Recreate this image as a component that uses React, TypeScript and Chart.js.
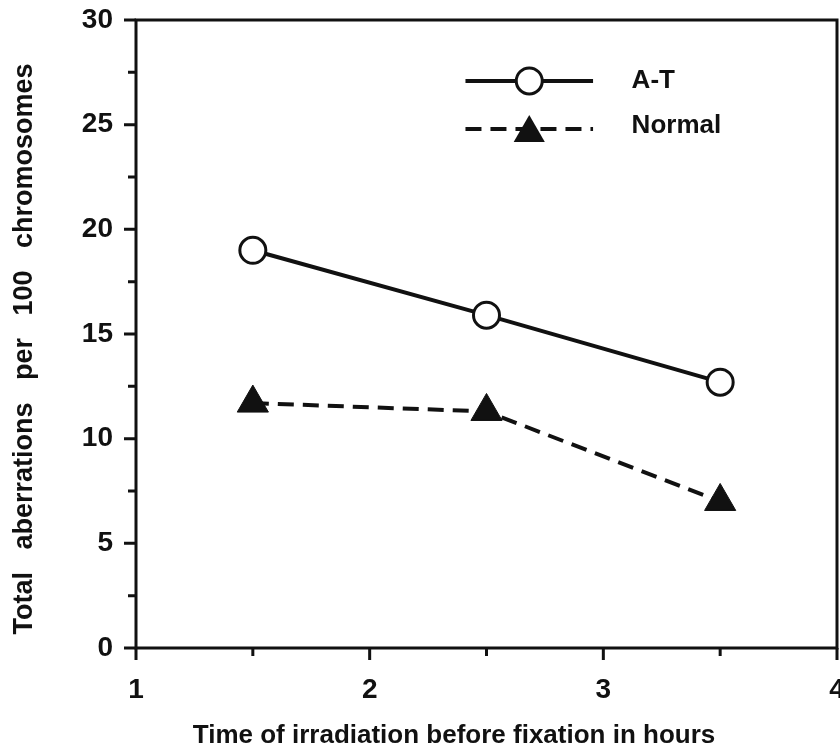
import React, { useEffect, useRef } from "react";
import { Chart, registerables } from "chart.js";

Chart.register(...registerables);

const timeHours = [1.5, 2.5, 3.5];
const atValues = [19.0, 15.9, 12.7];
const normalValues = [11.7, 11.3, 7.0];
const xMajorTicks = [1, 2, 3, 4];
const xMinorTicks = [1.5, 2.5, 3.5];
const yMajorTicks = [0, 5, 10, 15, 20, 25, 30];
const yMinorTicks = [2.5, 7.5, 12.5, 17.5, 22.5, 27.5];
const seriesNames = ["A-T", "Normal"];
const xTitle = "Time of irradiation before fixation in hours";
const yTitle = "Total   aberrations   per   100   chromosomes";

const FONT = "'Liberation Sans', Arial, Helvetica, sans-serif";

const axesPlugin = {
  id: "axesPlugin",
  beforeDatasetsDraw(chart: any) {
    const { ctx, chartArea, scales } = chart;
    const xs = scales.x;
    const ys = scales.y;
    ctx.save();
    ctx.strokeStyle = "#111";
    ctx.lineWidth = 3;
    ctx.lineCap = "square";
    ctx.beginPath();
    ctx.moveTo(chartArea.left, chartArea.top);
    ctx.lineTo(chartArea.left, chartArea.bottom);
    ctx.lineTo(chartArea.right, chartArea.bottom);
    ctx.moveTo(chartArea.left, chartArea.top);
    ctx.lineTo(chartArea.right, chartArea.top);
    ctx.lineTo(chartArea.right, chartArea.bottom);
    ctx.stroke();
    ctx.lineCap = "butt";
    ctx.lineWidth = 3;
    ctx.beginPath();
    for (const v of yMajorTicks) {
      const y = ys.getPixelForValue(v);
      ctx.moveTo(chartArea.left - 12, y);
      ctx.lineTo(chartArea.left, y);
    }
    for (const v of yMinorTicks) {
      const y = ys.getPixelForValue(v);
      ctx.moveTo(chartArea.left - 8, y);
      ctx.lineTo(chartArea.left, y);
    }
    for (const v of xMajorTicks) {
      const x = xs.getPixelForValue(v);
      ctx.moveTo(x, chartArea.bottom);
      ctx.lineTo(x, chartArea.bottom + 12);
    }
    for (const v of xMinorTicks) {
      const x = xs.getPixelForValue(v);
      ctx.moveTo(x, chartArea.bottom);
      ctx.lineTo(x, chartArea.bottom + 8);
    }
    ctx.stroke();
    ctx.restore();
  },
  afterDraw(chart: any) {
    const { ctx, chartArea } = chart;
    const w = chartArea.right - chartArea.left;
    const h = chartArea.bottom - chartArea.top;
    const x0 = chartArea.left + w * 0.47;
    const x1 = chartArea.left + w * 0.652;
    const xm = (x0 + x1) / 2;
    const tx = chartArea.left + w * 0.707;
    const y1 = chartArea.top + h * 0.097;
    const y2 = chartArea.top + h * 0.1736;
    ctx.save();
    // A-T
    ctx.strokeStyle = "#111";
    ctx.lineWidth = 4;
    ctx.beginPath();
    ctx.moveTo(x0, y1);
    ctx.lineTo(x1, y1);
    ctx.stroke();
    ctx.beginPath();
    ctx.arc(xm, y1, 13, 0, Math.PI * 2);
    ctx.fillStyle = "#fff";
    ctx.fill();
    ctx.lineWidth = 3;
    ctx.stroke();
    // Normal
    ctx.lineWidth = 4;
    ctx.setLineDash([16, 9]);
    ctx.beginPath();
    ctx.moveTo(x0, y2);
    ctx.lineTo(x1, y2);
    ctx.stroke();
    ctx.setLineDash([]);
    const r = 18;
    ctx.beginPath();
    ctx.moveTo(xm, y2 - r + 4);
    ctx.lineTo(xm + r * 0.866, y2 + r / 2 + 4);
    ctx.lineTo(xm - r * 0.866, y2 + r / 2 + 4);
    ctx.closePath();
    ctx.fillStyle = "#111";
    ctx.fill();
    ctx.fillStyle = "#111";
    ctx.font = `bold 26px ${FONT}`;
    ctx.textAlign = "left";
    ctx.textBaseline = "middle";
    ctx.fillText(seriesNames[0], tx, y1);
    ctx.fillText(seriesNames[1], tx, y2 - 3);
    ctx.restore();
  },
};

export default function App() {
  const ref = useRef<HTMLCanvasElement>(null);
  useEffect(() => {
    if (!ref.current) return;
    const chart = new Chart(ref.current, {
      type: "scatter",
      data: {
        datasets: [
          {
            label: seriesNames[0],
            data: timeHours.map((t, i) => ({ x: t, y: atValues[i] })),
            showLine: true,
            borderColor: "#111",
            borderWidth: 4,
            pointStyle: "circle",
            pointRadius: 13,
            pointBorderWidth: 3,
            pointBackgroundColor: "#fff",
            pointBorderColor: "#111",
          },
          {
            label: seriesNames[1],
            data: timeHours.map((t, i) => ({ x: t, y: normalValues[i] })),
            showLine: true,
            borderColor: "#111",
            borderWidth: 4,
            borderDash: [16, 9],
            pointStyle: "triangle",
            pointRadius: 18,
            pointBorderWidth: 1,
            pointBackgroundColor: "#111",
            pointBorderColor: "#111",
          },
        ],
      },
      options: {
        responsive: false,
        animation: false,
        layout: { autoPadding: false, padding: { top: 20, right: 3, left: 0, bottom: 0 } },
        plugins: { legend: { display: false }, tooltip: { enabled: false } },
        scales: {
          x: {
            type: "linear",
            min: 1,
            max: 4,
            grid: { display: false, drawTicks: false },
            border: { display: false },
            afterBuildTicks: (s: any) => {
              s.ticks = xMajorTicks.map((v) => ({ value: v }));
            },
            afterFit: (s: any) => {
              s.height = 105;
              s.paddingLeft = 0;
              s.paddingRight = 0;
            },
            ticks: {
              padding: 25,
              color: "#111",
              font: { family: FONT, size: 28, weight: "bold" },
              maxRotation: 0,
            },
            title: {
              display: true,
              text: xTitle + "         ",
              color: "#111",
              font: { family: FONT, size: 26, weight: "bold" },
              padding: { top: 0, bottom: 2 },
            },
          },
          y: {
            type: "linear",
            min: 0,
            max: 30,
            grid: { display: false, drawTicks: false },
            border: { display: false },
            afterBuildTicks: (s: any) => {
              s.ticks = yMajorTicks.map((v) => ({ value: v }));
            },
            afterFit: (s: any) => {
              s.width = 136;
              s.paddingTop = 0;
              s.paddingBottom = 0;
            },
            ticks: {
              padding: 23,
              color: "#111",
              font: { family: FONT, size: 28, weight: "bold" },
            },
            title: {
              display: true,
              text: yTitle + "    ",
              color: "#111",
              font: { family: FONT, size: 27, weight: "bold" },
              padding: { top: 8, bottom: 0 },
            },
          },
        },
      },
      plugins: [axesPlugin],
    });
    return () => chart.destroy();
  }, []);
  return (
    <div style={{ position: "fixed", left: 0, top: 0, width: 840, height: 753, background: "#fff" }}>
      <canvas ref={ref} width={840} height={753} />
    </div>
  );
}
